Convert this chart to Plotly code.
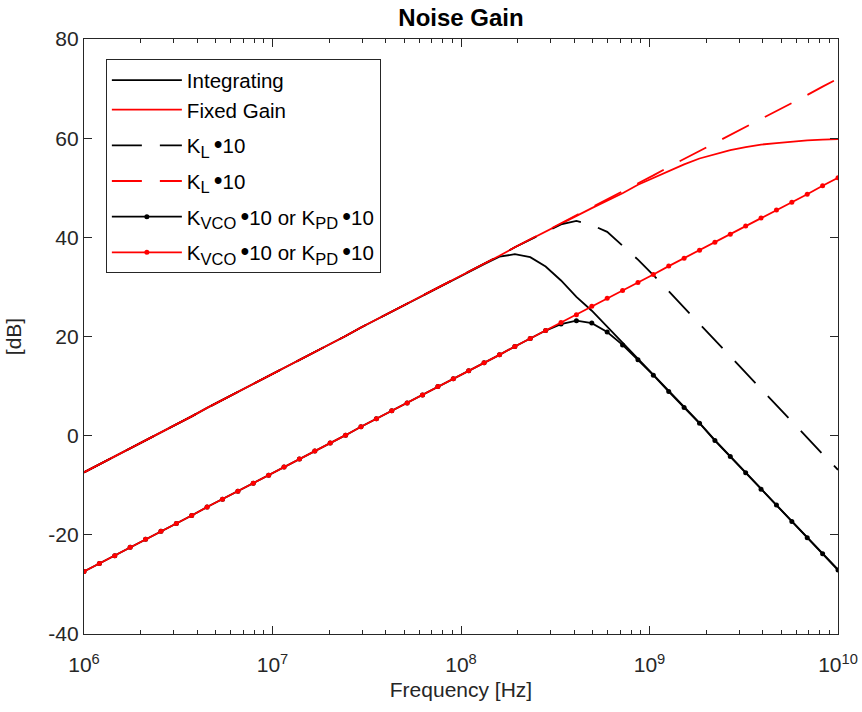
import numpy as np
import plotly.graph_objects as go

# Sampling grid (50 log-spaced frequencies, 1 MHz .. 10 GHz)
freq_hz = np.logspace(6, 10, 50)

integrating = [-7.4, -5.8, -4.2, -2.5, -0.9, 0.7, 2.3, 3.9, 5.6, 7.2,
               8.8, 10.4, 12.0, 13.7, 15.3, 16.9, 18.5, 20.1, 21.8, 23.4,
               25.0, 26.6, 28.2, 29.9, 31.5, 33.0, 34.6, 36.1, 36.6, 36.0,
               34.1, 31.3, 28.0, 25.2, 22.0, 18.6, 15.4, 12.3, 9.0, 5.8,
               2.6, -0.9, -4.1, -7.4, -10.7, -14.0, -17.3, -20.6, -23.8, -27.0]

fixed_gain = [-7.4, -5.8, -4.2, -2.5, -0.9, 0.7, 2.3, 3.9, 5.6, 7.2,
              8.8, 10.4, 12.0, 13.7, 15.3, 16.9, 18.5, 20.1, 21.8, 23.4,
              25.0, 26.6, 28.2, 29.9, 31.5, 33.1, 34.7, 36.3, 38.0, 39.6,
              41.1, 42.7, 44.3, 45.9, 47.4, 48.9, 50.6, 52.0, 53.4, 54.7,
              55.9, 56.8, 57.6, 58.2, 58.7, 59.0, 59.35, 59.55, 59.7, 59.8]

kl_integrating = [-7.4, -5.8, -4.2, -2.5, -0.9, 0.7, 2.3, 3.9, 5.6, 7.2,
                  8.8, 10.4, 12.0, 13.7, 15.3, 16.9, 18.5, 20.1, 21.8, 23.4,
                  25.0, 26.6, 28.2, 29.9, 31.5, 33.1, 34.7, 36.3, 38.0, 39.5,
                  41.0, 42.6, 43.3, 42.5, 41.1, 38.3, 35.5, 32.4, 29.1, 25.8,
                  22.6, 19.2, 16.0, 12.7, 9.5, 6.2, 2.9, -0.4, -3.7, -6.9]

kl_fixed = [-7.4, -5.8, -4.2, -2.5, -0.9, 0.7, 2.3, 3.9, 5.6, 7.2,
            8.8, 10.4, 12.0, 13.7, 15.3, 16.9, 18.5, 20.1, 21.8, 23.4,
            25.0, 26.6, 28.2, 29.9, 31.5, 33.1, 34.7, 36.3, 38.0, 39.6,
            41.2, 42.8, 44.4, 46.1, 47.7, 49.3, 50.9, 52.5, 54.2, 55.8,
            57.4, 59.0, 60.6, 62.3, 63.9, 65.5, 67.1, 68.7, 70.4, 72.0]

kvco_integrating = [-27.4, -25.8, -24.2, -22.5, -20.9, -19.3, -17.7, -16.1, -14.4, -12.8,
                    -11.2, -9.6, -8.0, -6.3, -4.7, -3.1, -1.5, 0.1, 1.8, 3.4,
                    5.0, 6.6, 8.2, 9.9, 11.5, 13.1, 14.7, 16.3, 18.0, 19.6,
                    21.2, 22.5, 23.2, 22.7, 20.9, 18.3, 15.3, 12.2, 8.9, 5.7,
                    2.5, -1.0, -4.2, -7.5, -10.8, -14.0, -17.3, -20.6, -23.8, -27.1]

kvco_fixed = [-27.4, -25.8, -24.2, -22.5, -20.9, -19.3, -17.7, -16.1, -14.4, -12.8,
              -11.2, -9.6, -8.0, -6.3, -4.7, -3.1, -1.5, 0.1, 1.8, 3.4,
              5.0, 6.6, 8.2, 9.9, 11.5, 13.1, 14.7, 16.3, 18.0, 19.6,
              21.2, 22.8, 24.4, 26.1, 27.7, 29.3, 30.9, 32.5, 34.2, 35.8,
              37.4, 39.0, 40.6, 42.3, 43.9, 45.5, 47.1, 48.7, 50.4, 52.0]

BUL = '\u2009<span style="font-size:25px">\u2022</span>'


def sub(t):
    return '<sub><span style="font-size:16.5px">' + t + '</span></sub>'


series_names = ["Integrating", "Fixed Gain",
                "K" + sub("L") + BUL + "10", "K" + sub("L") + BUL + "10",
                "K" + sub("VCO") + BUL + "10 or K" + sub("PD") + BUL + "10",
                "K" + sub("VCO") + BUL + "10 or K" + sub("PD") + BUL + "10"]
legend_groups = ["g1", "g1", "g2", "g3", "g4", "g5"]

x_tickvals = [1e6, 1e7, 1e8, 1e9, 1e10]
x_ticktext = ["10<sup>6</sup>", "10<sup>7</sup>", "10<sup>8</sup>", "10<sup>9</sup>", "10<sup>10</sup>"]
y_tickvals = [-40, -20, 0, 20, 40, 60, 80]
y_ticktext = ["-40", "-20", "0", "20", "40", "60", "80"]

BLACK = "#000000"
RED = "#FF0000"
AX = "#262626"
DASH = "30px,18px"
LW = 1.8

fig = go.Figure()
fig.add_trace(go.Scatter(x=freq_hz, y=integrating, mode="lines", name=series_names[0],
                         legendgroup=legend_groups[0], line=dict(color=BLACK, width=LW)))
fig.add_trace(go.Scatter(x=freq_hz, y=fixed_gain, mode="lines", name=series_names[1],
                         legendgroup=legend_groups[1], line=dict(color=RED, width=LW)))
fig.add_trace(go.Scatter(x=freq_hz, y=kl_integrating, mode="lines", name=series_names[2],
                         legendgroup=legend_groups[2], line=dict(color=BLACK, width=LW, dash=DASH)))
fig.add_trace(go.Scatter(x=freq_hz, y=kl_fixed, mode="lines", name=series_names[3],
                         legendgroup=legend_groups[3], line=dict(color=RED, width=LW, dash=DASH)))
fig.add_trace(go.Scatter(x=freq_hz, y=kvco_integrating, mode="lines+markers", name=series_names[4],
                         legendgroup=legend_groups[4],
                         line=dict(color=BLACK, width=LW), marker=dict(color=BLACK, size=5)))
fig.add_trace(go.Scatter(x=freq_hz, y=kvco_fixed, mode="lines+markers", name=series_names[5],
                         legendgroup=legend_groups[5],
                         line=dict(color=RED, width=LW), marker=dict(color=RED, size=5)))

FONT = "Liberation Sans, Arial, Helvetica, sans-serif"
axis_common = dict(showline=True, linecolor=AX, linewidth=1.3, mirror="ticks",
                   ticks="inside", ticklen=8, tickcolor=AX, tickwidth=1.3,
                   showgrid=False, zeroline=False, automargin=False,
                   tickfont=dict(family=FONT, size=21, color=AX))

fig.update_layout(
    width=862, height=712,
    margin=dict(l=84, r=24, t=39, b=78),
    paper_bgcolor="white", plot_bgcolor="white",
    font=dict(family=FONT, color=AX),
    title=dict(text="<b>Noise Gain</b>", x=0.5, xref="paper", xanchor="center",
               y=0.975, yref="container", yanchor="middle",
               font=dict(family=FONT, size=24, color=BLACK)),
    showlegend=True,
    legend=dict(x=0.029, y=0.966, xanchor="left", yanchor="top",
                bgcolor="white", bordercolor=AX, borderwidth=1,
                font=dict(family=FONT, size=20.5, color=BLACK),
                itemwidth=70, tracegroupgap=6, traceorder="grouped"),
)
fig.update_xaxes(type="log", range=[6, 10], tickvals=x_tickvals, ticktext=x_ticktext,
                 ticklabelstandoff=12,
                 title=dict(text="Frequency [Hz]", font=dict(family=FONT, size=21, color=AX), standoff=6),
                 minor=dict(ticks="inside", ticklen=4, tickcolor=AX, dtick="D1", showgrid=False),
                 **axis_common)
fig.update_yaxes(range=[-40, 80], tickvals=y_tickvals, ticktext=y_ticktext,
                 title=dict(text="[dB]", font=dict(family=FONT, size=21, color=AX), standoff=20),
                 **axis_common)

fig.write_html("out.html")
